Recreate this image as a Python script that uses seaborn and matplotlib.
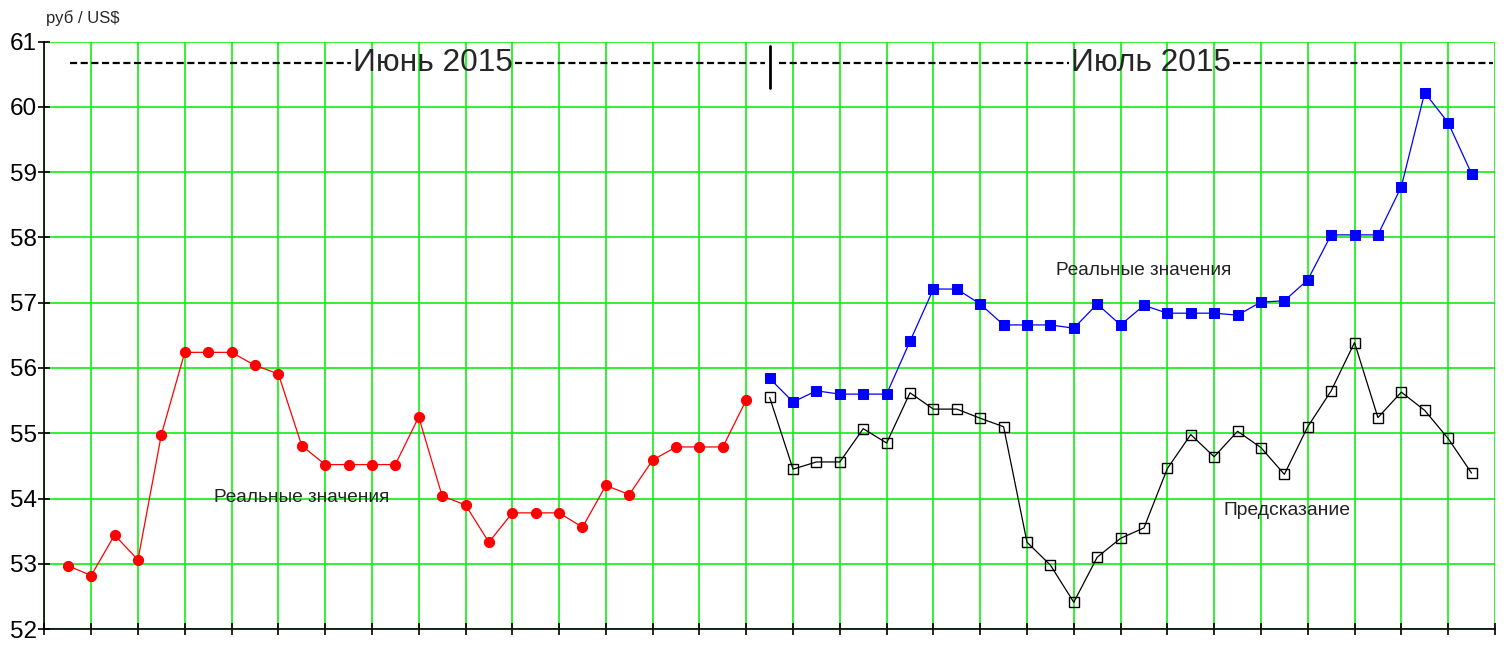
import matplotlib
matplotlib.use("Agg")
import matplotlib.pyplot as plt
import seaborn as sns
import pandas as pd

# June 2015 (days 1..30) actual rate, July 2015 (days 31..61) actual and forecast
june_actual = [52.97, 52.82, 53.44, 53.06, 54.98, 56.24, 56.24, 56.24, 56.04, 55.91,
               54.81, 54.52, 54.52, 54.52, 54.52, 55.25, 54.04, 53.90, 53.33, 53.78,
               53.78, 53.78, 53.56, 54.20, 54.06, 54.59, 54.79, 54.79, 54.79, 55.51]
july_actual = [55.84, 55.48, 55.65, 55.60, 55.60, 55.60, 56.41, 57.21, 57.21, 56.98,
               56.66, 56.66, 56.66, 56.61, 56.98, 56.66, 56.96, 56.84, 56.84, 56.84,
               56.81, 57.01, 57.03, 57.35, 58.04, 58.04, 58.04, 58.78, 60.22, 59.76, 58.98]
july_forecast = [55.55, 54.45, 54.56, 54.56, 55.07, 54.85, 55.62, 55.37, 55.37, 55.23,
                 55.10, 53.33, 52.98, 52.41, 53.10, 53.39, 53.55, 54.46, 54.98, 54.64,
                 55.03, 54.78, 54.37, 55.10, 55.65, 56.39, 55.24, 55.63, 55.35, 54.92, 54.39]
june_days = list(range(1, 31))
july_days = list(range(31, 62))

sns.set_style("white")
plt.rcParams["font.family"] = ["Liberation Sans", "DejaVu Sans"]

df_june = pd.DataFrame({"day": june_days, "rate": june_actual})
df_july = pd.DataFrame({"day": july_days, "rate": july_actual})
df_pred = pd.DataFrame({"day": july_days, "rate": july_forecast})

fig = plt.figure(figsize=(15.1, 6.47), dpi=100)
ax = fig.add_axes([0.0294, 0.0278, 0.9606, 0.9077])

green = "#11ee11"
ax.set_xticks(range(0, 63, 2))
ax.set_yticks(range(52, 62))
ax.grid(True, color=green, linewidth=1.2)
ax.set_axisbelow(True)

sns.lineplot(data=df_june, x="day", y="rate", ax=ax, color="red", linewidth=0.9,
             marker="o", markersize=7.3, markeredgecolor="red")
sns.lineplot(data=df_july, x="day", y="rate", ax=ax, color="blue", linewidth=0.9,
             marker="s", markersize=7.8, markeredgecolor="blue")
sns.lineplot(data=df_pred, x="day", y="rate", ax=ax, color="black", linewidth=0.9,
             marker="s", markersize=7.2, markerfacecolor="none", markeredgecolor="black",
             markeredgewidth=1.0)

ax.set_xlim(0, 62)
ax.set_ylim(52, 61)
ax.set_xlabel("")
ax.set_ylabel("")
ax.set_xticklabels([])
ax.tick_params(axis="x", bottom=True, direction="inout", length=9, width=1.2, colors="black")
ax.tick_params(axis="y", left=True, direction="inout", length=9, width=1.2,
               labelsize=17.5, pad=1, colors="black")
for s in ["top", "right"]:
    ax.spines[s].set_visible(False)
for s in ["left", "bottom"]:
    ax.spines[s].set_color("black")
    ax.spines[s].set_linewidth(1.2)

# month header: dashed rule broken by the month names
dash = dict(color="black", linewidth=1.6, linestyle=(0, (3.2, 1.6)))
ax.plot([1.1, 13.1], [60.67, 60.67], **dash)
ax.plot([20.1, 30.8], [60.67, 60.67], **dash)
ax.plot([31.4, 43.8], [60.67, 60.67], **dash)
ax.plot([50.8, 61.9], [60.67, 60.67], **dash)
ax.plot([31.0, 31.0], [60.29, 60.93], color="black", linewidth=2)
ax.text(16.6, 60.67, "Июнь 2015", fontsize=22.8, ha="center", va="center")
ax.text(47.3, 60.67, "Июль 2015", fontsize=22.8, ha="center", va="center")

ax.text(11.0, 54.02, "Реальные значения", fontsize=13.7, ha="center", va="center", color="#222222")
ax.text(47.0, 57.5, "Реальные значения", fontsize=13.7, ha="center", va="center", color="#222222")
ax.text(53.1, 53.82, "Предсказание", fontsize=13.9, ha="center", va="center", color="#222222")

fig.text(0.0305, 0.972, "руб / US$", fontsize=12, ha="left", va="center")

fig.savefig("out.png", dpi=100)
